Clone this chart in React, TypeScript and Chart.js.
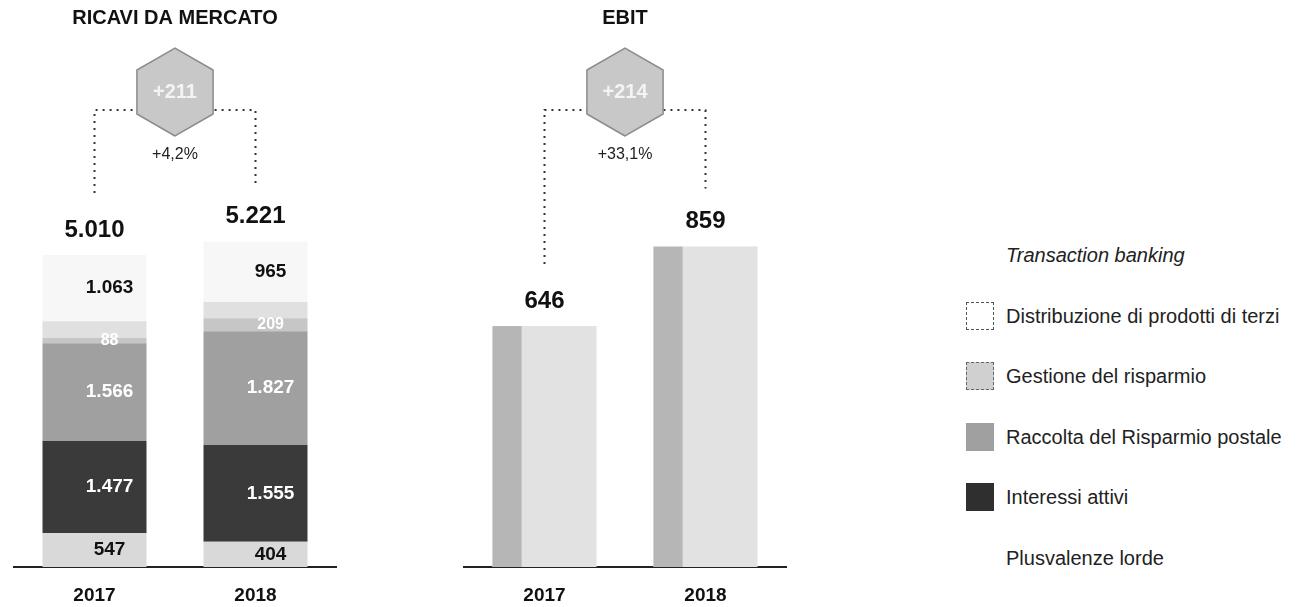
import React, { useEffect, useRef } from "react";
import { Chart, registerables } from "chart.js";

Chart.register(...registerables);

// ---------- DATA ----------
const years = ["2017", "2018"];

// Ricavi da mercato, stacked from bottom to top
const plusvalenzeLorde = [547, 404];
const interessiAttivi = [1477, 1555];
const raccoltaRisparmioPostale = [1566, 1827];
const gestioneRisparmio = [88, 209];
const distribuzioneProdottiTerzi = [269, 261];
const transactionBanking = [1063, 965];
const ricaviTotals = [5010, 5221];
const ricaviDelta = "+211";
const ricaviPct = "+4,2%";

// EBIT
const ebitValues = [646, 859];
const ebitDelta = "+214";
const ebitPct = "+33,1%";

const seriesNames = [
  "Plusvalenze lorde",
  "Interessi attivi",
  "Raccolta del Risparmio postale",
  "Gestione del risparmio",
  "Distribuzione di prodotti di terzi",
  "Transaction banking",
];
const seriesValues = [
  plusvalenzeLorde,
  interessiAttivi,
  raccoltaRisparmioPostale,
  gestioneRisparmio,
  distribuzioneProdottiTerzi,
  transactionBanking,
];

// ---------- STYLES ----------
const FONT = '"Liberation Sans", Arial, Helvetica, sans-serif';
const seriesColors = ["#d9d9d9", "#3a3a3a", "#a0a0a0", "#c6c6c6", "#e0e0e0", "#f7f7f7"];
const segLabelStyles: (null | { color: string; size: number })[] = [
  { color: "#111", size: 19 },
  { color: "#ffffff", size: 19 },
  { color: "#ffffff", size: 19 },
  { color: "#ffffff", size: 16 },
  null,
  { color: "#111", size: 19 },
];
// swatches in the same (bottom-to-top) order as the series
const legendSwatches: (null | { bg: string; border?: string })[] = [
  null,
  { bg: "#2f2f2f" },
  { bg: "#a0a0a0" },
  { bg: "#d0d0d0", border: "1px dashed #666" },
  { bg: "#ffffff", border: "1px dashed #555" },
  null,
];

const fmt = (n: number) => String(n).replace(/\B(?=(\d{3})+(?!\d))/g, ".");

function makeDecor(cfg: {
  totals: number[];
  delta: string;
  pct: string;
  segLabels?: (null | { color: string; size: number })[];
  strip?: boolean;
}) {
  return {
    id: "decor",
    afterDatasetsDraw(chart: any) {
      const ctx = chart.ctx as CanvasRenderingContext2D;
      const nDs = chart.data.datasets.length;
      const topMeta = chart.getDatasetMeta(nDs - 1);
      ctx.save();
      if (cfg.strip) {
        chart.data.datasets.forEach((_: any, d: number) => {
          chart.getDatasetMeta(d).data.forEach((el: any) => {
            const w = el.width;
            ctx.fillStyle = "#b6b6b6";
            ctx.fillRect(el.x - w / 2, el.y, w * 0.28, el.base - el.y);
          });
        });
      }
      ctx.textAlign = "center";
      ctx.textBaseline = "middle";
      if (cfg.segLabels) {
        chart.data.datasets.forEach((ds: any, d: number) => {
          const st = cfg.segLabels![d];
          if (!st) return;
          chart.getDatasetMeta(d).data.forEach((el: any, i: number) => {
            ctx.font = `bold ${st.size}px ${FONT}`;
            ctx.fillStyle = st.color;
            ctx.fillText(fmt(ds.data[i]), el.x + el.width * 0.145, (el.y + el.base) / 2);
          });
        });
      }
      const xs = topMeta.data.map((el: any) => el.x);
      const tops = topMeta.data.map((el: any) => el.y);
      // totals above bars
      ctx.font = `bold 24px ${FONT}`;
      ctx.fillStyle = "#111";
      cfg.totals.forEach((t, i) => ctx.fillText(fmt(t), xs[i], tops[i] - 25));
      // dotted bracket
      const yH = 110;
      ctx.strokeStyle = "#333";
      ctx.lineWidth = 2;
      ctx.setLineDash([2, 5]);
      ctx.beginPath();
      ctx.moveTo(xs[0], tops[0] - 62);
      ctx.lineTo(xs[0], yH);
      ctx.lineTo(xs[1], yH);
      ctx.lineTo(xs[1], tops[1] - 58);
      ctx.stroke();
      ctx.setLineDash([]);
      // hexagon
      const cx = (xs[0] + xs[1]) / 2;
      const cy = 92;
      const r = 44;
      ctx.beginPath();
      for (let k = 0; k < 6; k++) {
        const a = Math.PI / 2 + (k * Math.PI) / 3;
        const px = cx + r * Math.cos(a);
        const py = cy + r * Math.sin(a);
        if (k === 0) ctx.moveTo(px, py);
        else ctx.lineTo(px, py);
      }
      ctx.closePath();
      ctx.fillStyle = "#c8c8c8";
      ctx.fill();
      ctx.strokeStyle = "#8c8c8c";
      ctx.lineWidth = 1.5;
      ctx.stroke();
      ctx.font = `bold 20px ${FONT}`;
      ctx.fillStyle = "#f4f4f4";
      ctx.fillText(cfg.delta, cx, cy);
      ctx.font = `16px ${FONT}`;
      ctx.fillStyle = "#222";
      ctx.fillText(cfg.pct, cx, 155);
      ctx.restore();
    },
  };
}

function baseOptions(title: string, yMax: number) {
  return {
    animation: false as const,
    responsive: false,
    layout: { padding: { left: 14, right: 14, top: 0, bottom: 0 } },
    datasets: { bar: { categoryPercentage: 1, barPercentage: 0.646 } },
    plugins: {
      legend: { display: false },
      tooltip: { enabled: false },
      title: {
        display: true,
        text: title,
        color: "#111",
        font: { family: FONT, size: 20, weight: "bold" as const },
        padding: { top: 6, bottom: 10 },
      },
    },
    scales: {
      x: {
        stacked: true,
        grid: { display: false, drawTicks: false },
        border: { display: true, color: "#222", width: 2 },
        ticks: { color: "#111", padding: 17, font: { family: FONT, size: 19, weight: "bold" as const } },
        afterFit: (s: any) => {
          s.height = 40;
        },
      },
      y: { stacked: true, display: false, min: 0, max: yMax },
    },
  };
}

export default function App() {
  const leftRef = useRef<HTMLCanvasElement>(null);
  const rightRef = useRef<HTMLCanvasElement>(null);

  useEffect(() => {
    document.body.style.margin = "0";
    document.body.style.overflow = "hidden";
    const c1 = new Chart(leftRef.current!, {
      type: "bar",
      data: {
        labels: years,
        datasets: seriesNames.map((name, i) => ({
          label: name,
          data: seriesValues[i],
          backgroundColor: seriesColors[i],
          borderWidth: 0,
        })),
      },
      options: baseOptions("RICAVI DA MERCATO", 8460) as any,
      plugins: [
        makeDecor({ totals: ricaviTotals, delta: ricaviDelta, pct: ricaviPct, segLabels: segLabelStyles }),
      ],
    });
    const c2 = new Chart(rightRef.current!, {
      type: "bar",
      data: {
        labels: years,
        datasets: [{ label: "EBIT", data: ebitValues, backgroundColor: "#e2e2e2", borderWidth: 0 }],
      },
      options: baseOptions("EBIT", 1413) as any,
      plugins: [makeDecor({ totals: ebitValues, delta: ebitDelta, pct: ebitPct, strip: true })],
    });
    return () => {
      c1.destroy();
      c2.destroy();
    };
  }, []);

  const legendOrder = seriesNames.map((_, i) => i).reverse();

  return (
    <div
      style={{
        position: "relative",
        width: 1299,
        height: 607,
        overflow: "hidden",
        background: "#fff",
        fontFamily: FONT,
      }}
    >
      <canvas ref={leftRef} width={350} height={607} style={{ position: "absolute", left: 0, top: 0 }} />
      <canvas ref={rightRef} width={350} height={607} style={{ position: "absolute", left: 450, top: 0 }} />
      {legendOrder.map((idx, row) => {
        const sw = legendSwatches[idx];
        const top = 255 + row * 60.6 - 14;
        return (
          <div key={idx} style={{ position: "absolute", left: 966, top, height: 28, display: "flex", alignItems: "center" }}>
            <div
              style={{
                width: 28,
                height: 28,
                boxSizing: "border-box",
                background: sw ? sw.bg : "transparent",
                border: sw && sw.border ? sw.border : "none",
              }}
            />
            <div
              style={{
                marginLeft: 12,
                fontSize: 20,
                lineHeight: "28px",
                color: "#222",
                whiteSpace: "nowrap",
                fontStyle: idx === seriesNames.length - 1 ? "italic" : "normal",
              }}
            >
              {seriesNames[idx]}
            </div>
          </div>
        );
      })}
    </div>
  );
}
